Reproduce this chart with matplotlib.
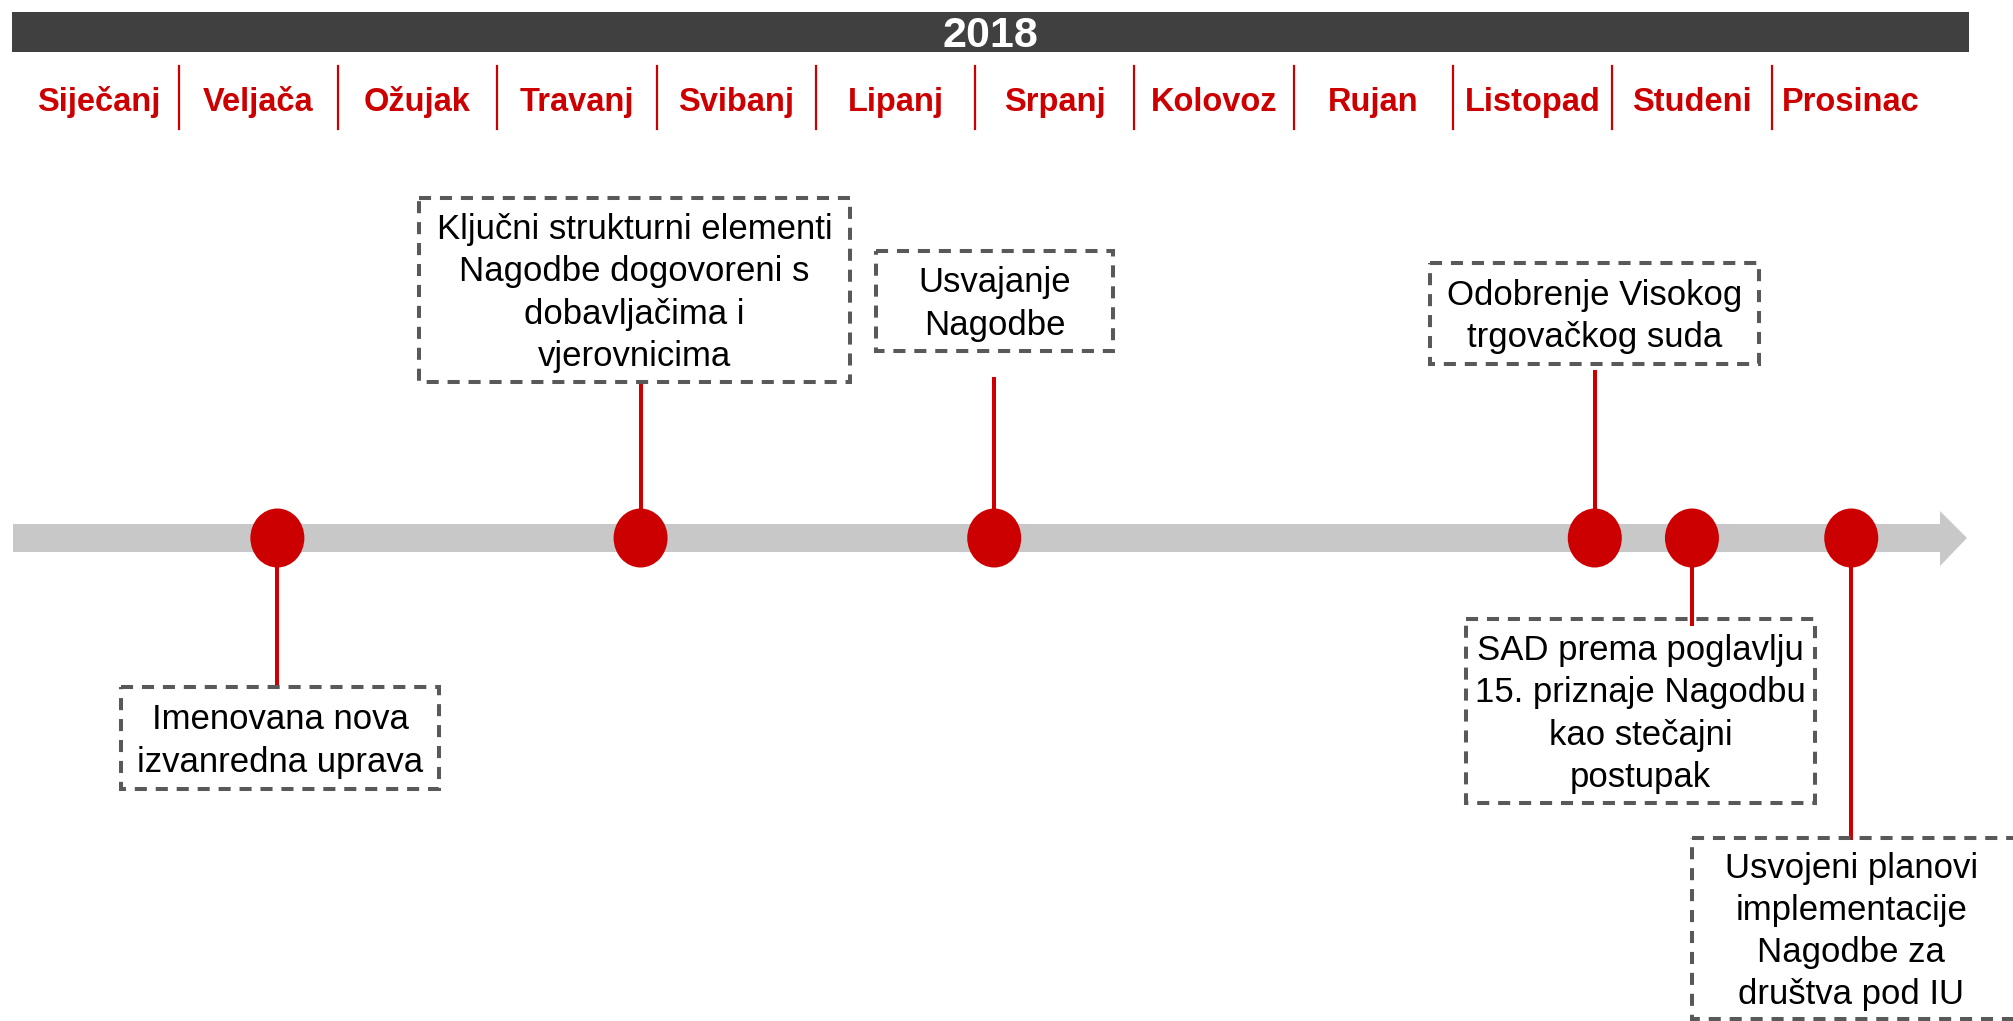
import numpy as np
import matplotlib.pyplot as plt
from matplotlib.patches import Rectangle, Ellipse, Polygon

plt.rcParams['font.family'] = ['Liberation Sans', 'DejaVu Sans']

# podaci
year = '2018'
months = ['Siječanj', 'Veljača', 'Ožujak', 'Travanj', 'Svibanj', 'Lipanj',
          'Srpanj', 'Kolovoz', 'Rujan', 'Listopad', 'Studeni', 'Prosinac']

# položaj događaja u mjesecima (0 = početak siječnja)
event_pos = [1.62, 3.90, 6.12, 9.89, 10.50, 11.50]
event_text = [
    'Imenovana nova\nizvanredna uprava',
    'Ključni strukturni elementi\nNagodbe dogovoreni s\ndobavljačima i\nvjerovnicima',
    'Usvajanje\nNagodbe',
    'Odobrenje Visokog\ntrgovačkog suda',
    'SAD prema poglavlju\n15. priznaje Nagodbu\nkao stečajni\npostupak',
    'Usvojeni planovi\nimplementacije\nNagodbe za\ndruštva pod IU',
]

# raspored (pikseli slike)
X0, MW = 19.3, 159.3          # lijevi rub siječnja, širina mjeseca
def px(p):
    return (p - X0) / MW

# okviri: lijevo, gore, desno, dolje
boxes = [(121, 687, 439, 789), (419, 198, 850, 382), (876, 251, 1113, 351),
         (1430, 263, 1759, 364), (1466, 619, 1815, 803), (1692, 838, 2030, 1019)]
stem_end = [684, 382, 379, 372, 624, 838]
line_y = 538

RED = '#CC0000'
GREY = '#C8C8C8'
DARK = '#404040'
EDGE = '#595959'

fig = plt.figure(figsize=(20.13, 10.21), dpi=100)
ax = fig.add_axes([0, 0, 1, 1])
ax.set_xlim(px(0), px(2013))
ax.set_ylim(1021, 0)
ax.axis('off')

# naslovna traka
ax.add_patch(Rectangle((px(11.5), 12), px(1969) - px(11.5), 40,
                       facecolor=DARK, edgecolor='none'))
ax.text((px(11.5) + px(1969)) / 2, 36, year, color='white', fontsize=31,
        fontweight='bold', ha='center', va='center')

# mjeseci
for i, m in enumerate(months):
    ax.text(i + 0.5, 111, m, color=RED, fontsize=23.5, fontweight='bold',
            ha='center', va='baseline')
for k in range(1, 12):
    ax.plot([k, k], [66, 129], color=RED, lw=1.6)

# vremenska os sa strelicom
band = [(px(13), 524), (px(1940), 524), (px(1940), 511), (px(1967), line_y),
        (px(1940), 566), (px(1940), 552), (px(13), 552)]
ax.add_patch(Polygon(band, closed=True, facecolor=GREY, edgecolor='none'))

# događaji
for pos, txt, (l, t, r, b), se in zip(event_pos, event_text, boxes, stem_end):
    ax.plot([pos, pos], [line_y, se], color=RED, lw=2.9, zorder=2)
    ax.add_patch(Ellipse((pos, line_y), 54 / MW, 59, facecolor=RED,
                         edgecolor='none', zorder=3))
    ax.add_patch(Rectangle((px(l), t), px(r) - px(l), b - t, facecolor='none',
                           edgecolor=EDGE, lw=2.9, linestyle=(0, (3.0, 2.2)),
                           zorder=2))
    cx = (px(l) + px(r)) / 2 if r < 2013 else pos
    ax.text(cx, (t + b) / 2 + 3, txt, fontsize=25, ha='center', va='center',
            linespacing=1.35, color='black', zorder=4)

fig.savefig('out.png', dpi=100)
